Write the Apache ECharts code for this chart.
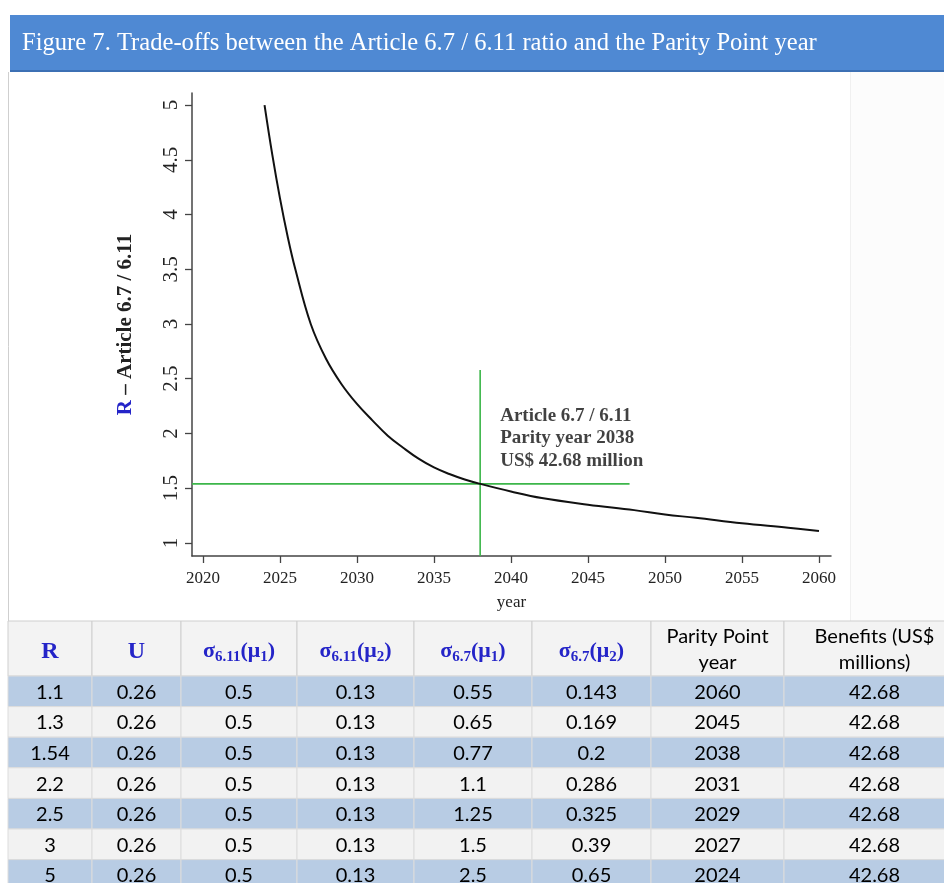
<!DOCTYPE html>
<html><head><meta charset="utf-8">
<script src="https://cdn.jsdelivr.net/npm/echarts@6/dist/echarts.min.js"></script>
<style>html,body{margin:0;padding:0;background:#fff}#c{width:944px;height:883px}</style>
</head><body><div id="c"></div>
<script>
// ---------- data ----------
const titleText = 'Figure 7. Trade-offs between the Article 6.7 / 6.11 ratio and the Parity Point year';
const curveYears = [2024, 2024.5, 2025, 2025.5, 2026, 2027, 2028, 2029, 2030, 2031, 2032, 2033, 2034, 2035, 2036, 2037, 2038, 2040, 2042, 2045, 2048, 2050, 2052, 2055, 2058, 2060];
const curveR     = [5.0, 4.55, 4.15, 3.8, 3.5, 3.0, 2.68, 2.45, 2.27, 2.12, 1.98, 1.87, 1.77, 1.69, 1.63, 1.58, 1.54, 1.47, 1.41, 1.35, 1.30, 1.26, 1.23, 1.18, 1.14, 1.11];
const parityYear = 2038;
const parityR = 1.54;
const hLineEndYear = 2047.7;
const vLineTopR = 2.58;
const xTicks = [2020, 2025, 2030, 2035, 2040, 2045, 2050, 2055, 2060];
const yTicks = [1, 1.5, 2, 2.5, 3, 3.5, 4, 4.5, 5];
const xRange = [2019.29, 2060.78];
const yRange = [0.881, 5.11];
const annotationAt = [2039.3, 2.262];
const annotationLines = ['Article 6.7 / 6.11', 'Parity year 2038', 'US$ 42.68 million'];

// table
const headerCells = ['R', 'U', 'σ6.11(μ1)', 'σ6.11(μ2)', 'σ6.7(μ1)', 'σ6.7(μ2)', 'Parity Point\nyear', 'Benefits (US$\nmillions)'];
const colR        = ['1.1', '1.3', '1.54', '2.2', '2.5', '3', '5'];
const colU        = ['0.26', '0.26', '0.26', '0.26', '0.26', '0.26', '0.26'];
const colS611mu1  = ['0.5', '0.5', '0.5', '0.5', '0.5', '0.5', '0.5'];
const colS611mu2  = ['0.13', '0.13', '0.13', '0.13', '0.13', '0.13', '0.13'];
const colS67mu1   = ['0.55', '0.65', '0.77', '1.1', '1.25', '1.5', '2.5'];
const colS67mu2   = ['0.143', '0.169', '0.2', '0.286', '0.325', '0.39', '0.65'];
const colParity   = ['2060', '2045', '2038', '2031', '2029', '2027', '2024'];
const colBenefits = ['42.68', '42.68', '42.68', '42.68', '42.68', '42.68', '42.68'];

// ---------- layout ----------
const colEdges = [0, 84, 173, 289, 406, 524, 643, 776, 957];
const tableVisibleWidth = 936;       // 944 - 8
const rowHeightPx = 30.6;
const bodyVisibleRows = 207 / rowHeightPx;
const tableCols = [colR, colU, colS611mu1, colS611mu2, colS67mu1, colS67mu2, colParity, colBenefits];
const SERIF = '"Liberation Serif","Times New Roman",serif';
const SANS = 'Lato,"Open Sans",sans-serif';
const BLUE = '#2424c8';

const headerData = headerCells.map((t, i) => [i, 0, t]);
const bodyData = [];
tableCols.forEach((col, c) => col.forEach((v, r) => bodyData.push([c, r, v])));

function sigmaRich(label) {
  const m = label.match(/^σ([\d.]+)\(μ(\d)\)$/);
  return '{g|σ}{s|' + m[1] + '}{g|(μ}{s|' + m[2] + '}{g|)}';
}

const richHeader = {
  g: { fontFamily: SERIF, fontWeight: 'bold', fontSize: 22, fill: BLUE, lineHeight: 26 },
  s: { fontFamily: SERIF, fontWeight: 'bold', fontSize: 15, fill: BLUE, lineHeight: 15, verticalAlign: 'bottom' }
};

function renderHeader(params, api) {
  const c = api.value(0);
  const x0 = api.coord([colEdges[c], 0])[0];
  const x1 = api.coord([colEdges[c + 1], 0])[0];
  const yc = api.coord([0, 0])[1];
  const h = api.size([0, 1])[1];
  const label = headerCells[c];
  let textEl;
  if (label === 'R' || label === 'U') {
    textEl = { type: 'text', style: { text: label, x: (x0 + x1) / 2, y: yc + 3, align: 'center', verticalAlign: 'middle', fill: BLUE, font: 'bold 24px ' + SERIF } };
  } else if (label.startsWith('σ')) {
    textEl = { type: 'text', style: { text: sigmaRich(label), rich: richHeader, x: (x0 + x1) / 2, y: yc + 3, align: 'center', verticalAlign: 'middle' } };
  } else {
    textEl = { type: 'text', style: { text: label, x: (x0 + x1) / 2, y: yc + 1, align: 'center', verticalAlign: 'middle', fill: '#000', font: '20px ' + SANS, lineHeight: 26 } };
  }
  return {
    type: 'group',
    children: [
      { type: 'rect', shape: { x: x0, y: yc - h / 2, width: x1 - x0, height: h }, style: { fill: '#f3f3f3', stroke: '#cfcfcf', lineWidth: 1 } },
      textEl
    ]
  };
}

function renderBody(params, api) {
  const c = api.value(0);
  const r = api.value(1);
  const x0 = api.coord([colEdges[c], r])[0];
  const x1 = api.coord([colEdges[c + 1], r])[0];
  const yTop = api.coord([0, r])[1];
  const yBot = api.coord([0, r + 1])[1];
  const fill = r % 2 === 0 ? '#b8cce4' : '#f2f2f2';
  return {
    type: 'group',
    children: [
      { type: 'rect', shape: { x: x0, y: yTop, width: x1 - x0, height: yBot - yTop }, style: { fill: fill, stroke: '#dcdcdc', lineWidth: 1 } },
      { type: 'text', style: { text: bodyData[params.dataIndex][2], x: (x0 + x1) / 2, y: (yTop + yBot) / 2 + 1, align: 'center', verticalAlign: 'middle', fill: '#000', font: '20px ' + SANS } }
    ]
  };
}

const chart = echarts.init(document.getElementById('c'), null, { renderer: 'canvas' });
chart.setOption({
  animation: false,
  backgroundColor: '#ffffff',
  graphic: [
    { type: 'rect', shape: { x: 851, y: 72, width: 93, height: 549 }, style: { fill: '#fcfcfc' }, z: -10 },
    { type: 'line', shape: { x1: 850.5, y1: 72, x2: 850.5, y2: 621 }, style: { stroke: '#f0f0f0', lineWidth: 1 }, z: -9 },
    { type: 'rect', shape: { x: 10, y: 15, width: 934, height: 57 }, style: { fill: '#4f89d3' }, z: 1 },
    { type: 'rect', shape: { x: 10, y: 70, width: 934, height: 2 }, style: { fill: '#3c70b4' }, z: 1 },
    { type: 'text', style: { text: titleText, x: 22, y: 44, verticalAlign: 'middle', fill: '#ffffff', font: '24.6px ' + SERIF }, z: 2 },
    { type: 'line', shape: { x1: 8.5, y1: 72, x2: 8.5, y2: 621 }, style: { stroke: '#cfcfcf', lineWidth: 1 }, z: 1 }
  ],
  grid: [
    { left: 192, top: 93, width: 639, height: 463 },
    { left: 8, top: 621, right: 0, height: 55 },
    { left: 8, top: 676, right: 0, bottom: 0 }
  ],
  xAxis: [
    {
      gridIndex: 0, type: 'value', min: xRange[0], max: xRange[1],
      name: 'year', nameLocation: 'middle', nameGap: 38,
      nameTextStyle: { fontFamily: SERIF, fontSize: 17, color: '#222' },
      axisLine: { show: true, lineStyle: { color: '#444', width: 1.5 } },
      axisTick: { show: true, length: 7, customValues: xTicks, lineStyle: { color: '#444', width: 1.3 } },
      axisLabel: { customValues: xTicks, formatter: v => String(v), margin: 14, fontFamily: SERIF, fontSize: 17, color: '#222' },
      splitLine: { show: false }
    },
    { gridIndex: 1, type: 'value', min: 0, max: tableVisibleWidth, show: false },
    { gridIndex: 2, type: 'value', min: 0, max: tableVisibleWidth, show: false }
  ],
  yAxis: [
    {
      gridIndex: 0, type: 'value', min: yRange[0], max: yRange[1],
      name: '{b|R} – Article 6.7 / 6.11', nameLocation: 'middle', nameGap: 56, nameRotate: 90,
      nameTextStyle: { fontFamily: SERIF, fontSize: 21, fontWeight: 'bold', color: '#222',
        rich: { b: { fontFamily: SERIF, fontSize: 21, fontWeight: 'bold', color: BLUE } } },
      axisLine: { show: true, lineStyle: { color: '#444', width: 1.5 } },
      axisTick: { show: true, length: 7, customValues: yTicks, lineStyle: { color: '#444', width: 1.3 } },
      axisLabel: { customValues: yTicks, formatter: v => String(v), rotate: 90, margin: 10, fontFamily: SERIF, fontSize: 21, color: '#222' },
      splitLine: { show: false }
    },
    { gridIndex: 1, type: 'category', data: ['h'], inverse: true, show: false },
    { gridIndex: 2, type: 'value', min: 0, max: bodyVisibleRows, inverse: true, show: false }
  ],
  series: [
    {
      type: 'line', xAxisIndex: 0, yAxisIndex: 0, symbol: 'none', smooth: 0.4,
      data: curveYears.map((y, i) => [y, curveR[i]]),
      lineStyle: { color: '#111', width: 2 }, z: 3
    },
    {
      type: 'line', xAxisIndex: 0, yAxisIndex: 0, symbol: 'none',
      data: [[xRange[0], parityR], [hLineEndYear, parityR]],
      lineStyle: { color: '#3cb64a', width: 1.6 }, z: 2
    },
    {
      type: 'line', xAxisIndex: 0, yAxisIndex: 0, symbol: 'none',
      data: [[parityYear, yRange[0]], [parityYear, vLineTopR]],
      lineStyle: { color: '#3cb64a', width: 1.6 }, z: 2
    },
    {
      type: 'scatter', xAxisIndex: 0, yAxisIndex: 0, symbolSize: 0,
      data: [annotationAt],
      label: { show: true, position: [0, 0], align: 'left', verticalAlign: 'top',
        formatter: annotationLines.join('\n'), fontFamily: SERIF, fontWeight: 'bold', fontSize: 19, lineHeight: 22.5, color: '#111' },
      silent: true
    },
    {
      type: 'custom', xAxisIndex: 1, yAxisIndex: 1, renderItem: renderHeader, clip: false,
      data: headerData, encode: { x: 0, y: 1 }
    },
    {
      type: 'custom', xAxisIndex: 2, yAxisIndex: 2, renderItem: renderBody, clip: false,
      data: bodyData, encode: { x: 0, y: 1 }
    }
  ]
});
</script>
</body></html>
